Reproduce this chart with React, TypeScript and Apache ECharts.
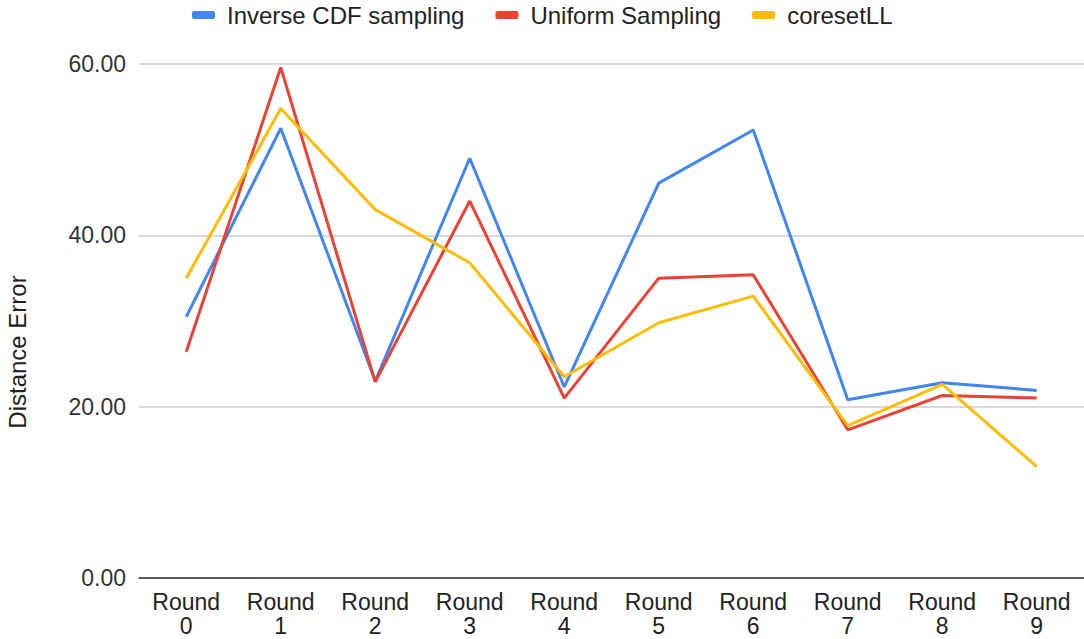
import React, { useEffect, useRef } from "react";
import * as echarts from "echarts";

const categories = ["Round\n0", "Round\n1", "Round\n2", "Round\n3", "Round\n4", "Round\n5", "Round\n6", "Round\n7", "Round\n8", "Round\n9"];
const inverseCdf = [30.5, 52.5, 23.0, 49.0, 22.3, 46.1, 52.3, 20.8, 22.8, 21.9];
const uniform = [26.4, 59.6, 22.9, 44.0, 21.0, 35.0, 35.4, 17.3, 21.3, 21.0];
const coresetLL = [35.0, 54.8, 43.0, 36.8, 23.5, 29.8, 32.9, 17.8, 22.6, 13.0];
const yTicks = { min: 0, max: 60, interval: 20 };

const FONT = "'Liberation Sans', Arial, sans-serif";

export default function App() {
  const ref = useRef<HTMLDivElement>(null);
  useEffect(() => {
    if (!ref.current) return;
    const chart = echarts.init(ref.current, undefined, { renderer: "svg" });
    const mk = (name: string, data: number[], color: string) => ({
      name,
      type: "line",
      data,
      symbol: "none",
      lineStyle: { width: 3, color },
      itemStyle: { color },
    });
    chart.setOption({
      animation: false,
      backgroundColor: "#ffffff",
      textStyle: { fontFamily: FONT },
      legend: {
        top: 3,
        left: 192,
        padding: 0,
        icon: "roundRect",
        itemWidth: 23,
        itemHeight: 8,
        itemGap: 31,
        textStyle: { fontSize: 24, color: "#222", fontFamily: FONT, lineHeight: 24, padding: [0, 0, 0, 7] },
      },
      grid: { left: 139, right: -2, top: 64, bottom: 61, containLabel: false },
      xAxis: {
        type: "category",
        data: categories,
        boundaryGap: true,
        axisLine: { lineStyle: { color: "#333", width: 1.5 } },
        axisTick: { show: false },
        axisLabel: { fontSize: 23, color: "#222", lineHeight: 24, margin: 12, interval: 0, fontFamily: FONT },
      },
      yAxis: {
        type: "value",
        min: yTicks.min,
        max: yTicks.max,
        interval: yTicks.interval,
        axisLine: { show: false },
        axisTick: { show: false },
        splitLine: { lineStyle: { color: "#cccccc", width: 1.5 } },
        axisLabel: {
          fontSize: 23,
          color: "#333",
          margin: 13,
          fontFamily: FONT,
          formatter: (v: number) => v.toFixed(2),
        },
      },
      graphic: [
        {
          type: "text",
          x: 17,
          y: 352,
          rotation: Math.PI / 2,
          style: {
            text: "Distance Error",
            fontSize: 24,
            fontFamily: FONT,
            fill: "#222",
            textAlign: "center",
            textVerticalAlign: "middle",
          },
        },
      ],
      series: [
        mk("Inverse CDF sampling", inverseCdf, "#4285F4"),
        mk("Uniform Sampling", uniform, "#EA4335"),
        mk("coresetLL", coresetLL, "#FBBC04"),
      ],
    });
    return () => chart.dispose();
  }, []);
  return <div ref={ref} style={{ position: "absolute", left: 0, top: 0, width: 1084, height: 639 }} />;
}
